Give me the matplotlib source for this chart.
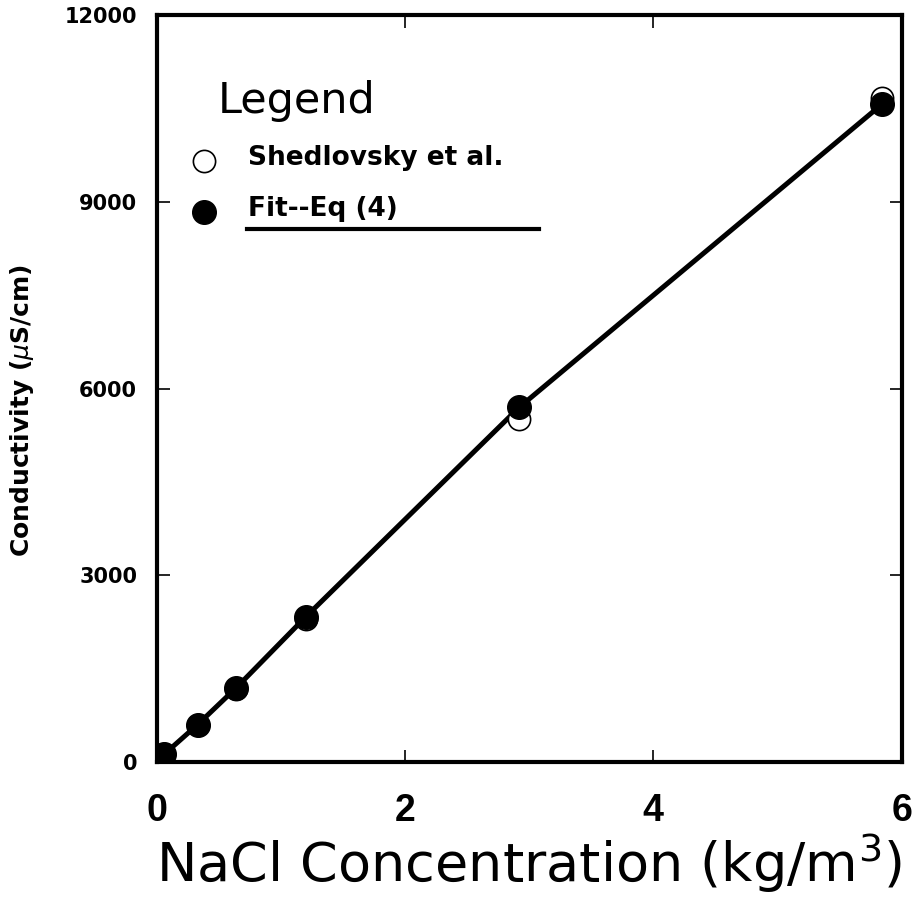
import matplotlib
matplotlib.use("Agg")
import matplotlib.pyplot as plt
from matplotlib.lines import Line2D

# NaCl concentration (kg/m^3) and conductivity (uS/cm)
conc = [0.006, 0.03, 0.06, 0.33, 0.64, 1.20, 2.92, 5.84]
shedlovsky = [12, 62, 124, 590, 1180, 2300, 5520, 10670]
fit_eq4 = [12, 62, 122, 600, 1190, 2330, 5700, 10570]

FONT = "Liberation Sans"
WIDE = "DejaVu Sans"

fig = plt.figure(figsize=(9.21, 9.05), dpi=100)
ax = fig.add_axes([0.170, 0.158, 0.809, 0.825])

ax.plot(conc, fit_eq4, color="black", linewidth=3.6, zorder=2)
ax.plot(conc, shedlovsky, linestyle="none", marker="o", markersize=16,
        markerfacecolor="white", markeredgecolor="black", markeredgewidth=1.2, zorder=3)
ax.plot(conc, fit_eq4, linestyle="none", marker="o", markersize=17,
        markerfacecolor="black", markeredgecolor="black", zorder=4)

ax.set_xlim(0, 6)
ax.set_ylim(0, 12000)
ax.set_xticks([0, 2, 4, 6])
ax.set_yticks([0, 3000, 6000, 9000, 12000])

for spine in ax.spines.values():
    spine.set_linewidth(3)
ax.tick_params(direction="in", length=9, width=1.2, top=True, right=True)
ax.tick_params(axis="x", pad=22)
ax.tick_params(axis="y", pad=14)

for lab in ax.get_xticklabels():
    lab.set_fontfamily(FONT)
    lab.set_fontweight("bold")
    lab.set_fontsize(27)
for lab in ax.get_yticklabels():
    lab.set_fontfamily(WIDE)
    lab.set_fontweight("bold")
    lab.set_fontsize(15)

ax.set_xlabel("NaCl Concentration (kg/m$^3$)", fontfamily=WIDE, fontsize=39, labelpad=2)
ax.set_ylabel(r"Conductivity ($\mu$S/cm)", fontfamily=WIDE, fontweight="bold",
              fontsize=18)
ax.yaxis.set_label_coords(-0.162, 0.47)

# legend, drawn as in the original figure
ax.text(0.49, 10620, "Legend", fontfamily=WIDE, fontsize=31, va="center", ha="left")
ax.plot([0.385], [9660], linestyle="none", marker="o", markersize=16,
        markerfacecolor="white", markeredgecolor="black", markeredgewidth=1.2)
ax.plot([0.385], [8840], linestyle="none", marker="o", markersize=17, color="black")
ax.text(0.74, 9700, "Shedlovsky et al.", fontfamily=WIDE, fontweight="bold",
        fontsize=19, va="center", ha="left")
ax.text(0.74, 8890, "Fit--Eq (4)", fontfamily=WIDE, fontweight="bold",
        fontsize=19, va="center", ha="left")
ax.add_line(Line2D([0.73, 3.08], [8567, 8567], color="black", linewidth=3))

fig.savefig("out.png", dpi=100)
